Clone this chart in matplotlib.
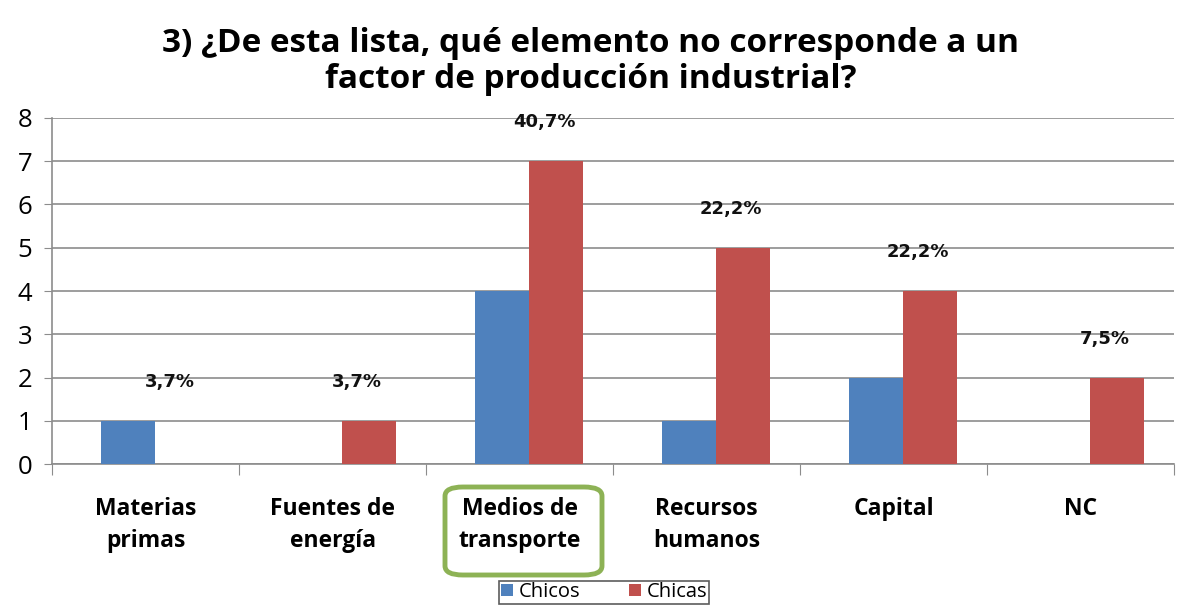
import numpy as np
import matplotlib.pyplot as plt
from matplotlib.patches import FancyBboxPatch


# data
categories = ['Materias\nprimas', 'Fuentes de\nenergía', 'Medios de\ntransporte',
              'Recursos\nhumanos', 'Capital', 'NC']
chicos = [1, 0, 4, 1, 2, 0]
chicas = [0, 1, 7, 5, 4, 2]
percent_labels = ['3,7%', '3,7%', '40,7%', '22,2%', '22,2%', '7,5%']

BLUE = '#4F81BD'
RED  = '#C0504D'

fig = plt.figure(figsize=(11.89, 6.05), dpi=100)
ax = fig.add_axes([0.0437, 0.233, 0.944, 0.572])

x = np.arange(len(categories))
width = 0.29

ax.bar(x - width/2 + 0.05, chicos, width, color=BLUE, label='Chicos', zorder=3)
ax.bar(x + width/2 + 0.05, chicas, width, color=RED,  label='Chicas', zorder=3)

# percentage labels above each group
for i in range(len(categories)):
    top = max(chicos[i], chicas[i])
    ax.text(x[i] + 0.13, top + 0.9, percent_labels[i], ha='center', va='center',
            fontsize=13, fontweight='bold', family='DejaVu Sans', color='#111111')

ax.set_xlim(-0.5, len(categories) - 0.5)
ax.set_ylim(0, 8)
ax.set_yticks(range(0, 9))
ax.yaxis.grid(True, color='#8c8c8c', linewidth=1.2, zorder=0)

# tick marks at category boundaries
ax.set_xticks(np.arange(-0.5, len(categories), 1.0))
ax.set_xticklabels([])
ax.set_xticks(x, minor=True)
ax.set_xticklabels(categories, minor=True, fontsize=16.5, fontweight='bold',
                   family='Open Sans', linespacing=1.45)
ax.tick_params(axis='x', which='major', length=8, color='#8c8c8c', direction='out')
ax.tick_params(axis='x', which='minor', length=0, pad=24)
ax.tick_params(axis='y', length=6, color='#8c8c8c', labelsize=18.5, pad=8)
for lab in ax.get_yticklabels():
    lab.set_family('Open Sans')

for side in ['top', 'right']:
    ax.spines[side].set_visible(False)
ax.spines['left'].set_color('#8c8c8c')
ax.spines['bottom'].set_color('#8c8c8c')
ax.spines['left'].set_linewidth(1.2)
ax.spines['bottom'].set_linewidth(1.2)

# green highlight around the right answer
box = FancyBboxPatch((445/1189, 1 - 575/605), 157/1189, 88/605,
                     boxstyle='round,pad=0,rounding_size=0.015',
                     transform=fig.transFigure, fill=False,
                     edgecolor='#8DB255', linewidth=3.5)
fig.patches.append(box)

fig.suptitle('3) ¿De esta lista, qué elemento no corresponde a un\nfactor de producción industrial?',
             x=0.497, y=0.955, fontsize=24, fontweight='bold', family='Open Sans',
             linespacing=1.1, va='top')

leg = fig.legend(loc='lower center', bbox_to_anchor=(0.508, -0.008), ncol=2,
                 frameon=True, fancybox=False, edgecolor='#333333',
                 handlelength=0.6, handleheight=0.6, handletextpad=0.3,
                 columnspacing=2.4, borderpad=0.08, borderaxespad=0.3,
                 prop={'family': 'Open Sans', 'size': 14.5})
leg.get_frame().set_linewidth(1.2)

fig.savefig('out.png', dpi=100)
